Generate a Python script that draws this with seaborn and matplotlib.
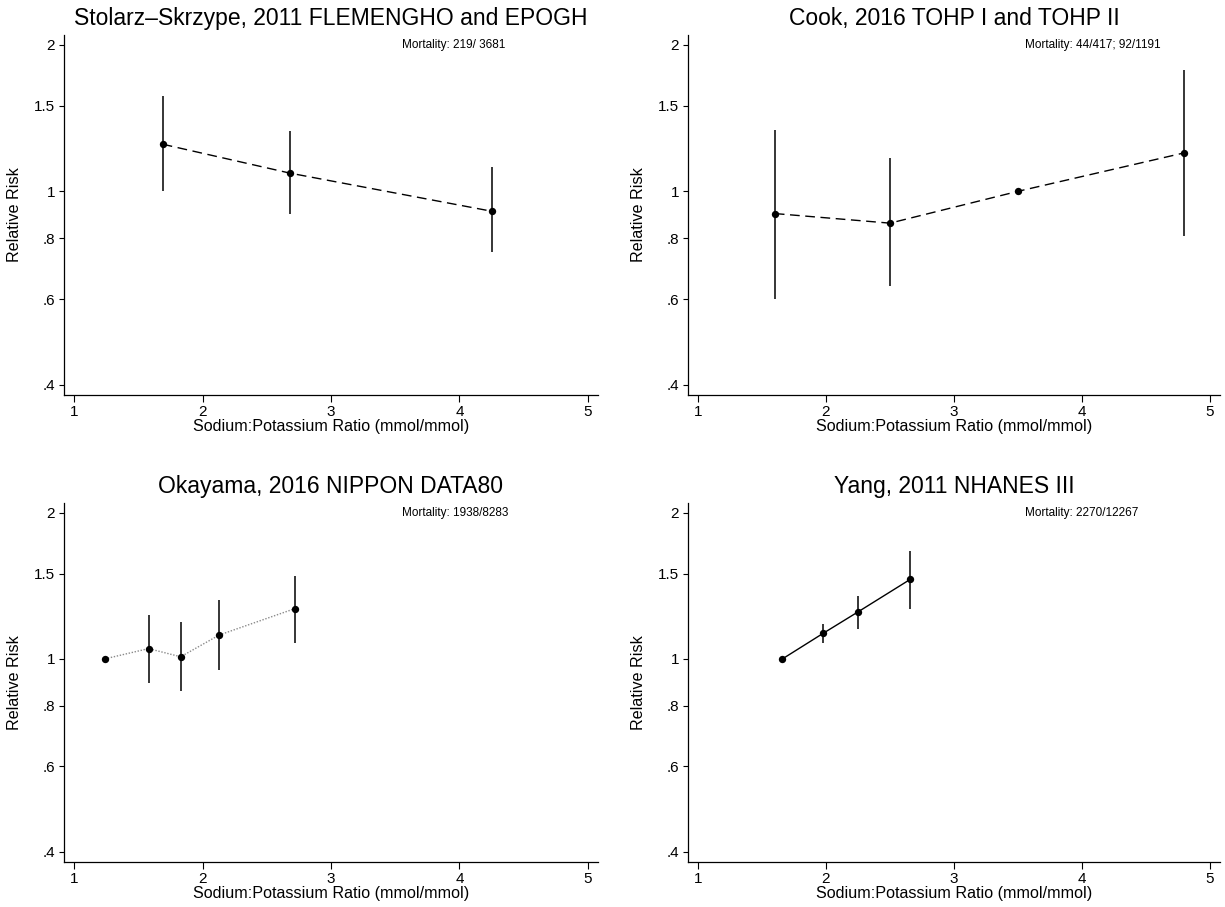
import matplotlib
matplotlib.use("Agg")
import matplotlib.pyplot as plt
import seaborn as sns
import numpy as np
import pandas as pd
from matplotlib.ticker import FixedLocator, FixedFormatter, NullLocator

sns.set_theme(style="ticks")
plt.rcParams['font.family'] = ['Liberation Sans', 'DejaVu Sans']

# ---------------- data ----------------
titles = ["Stolarz\u2013Skrzype, 2011 FLEMENGHO and EPOGH",
          "Cook, 2016 TOHP I and TOHP II",
          "Okayama, 2016 NIPPON DATA80",
          "Yang, 2011 NHANES III"]
mortality = ["Mortality: 219/ 3681",
             "Mortality: 44/417; 92/1191",
             "Mortality: 1938/8283",
             "Mortality: 2270/12267"]

stolarz_x = [1.69, 2.68, 4.25]
stolarz_rr = [1.25, 1.09, 0.91]
stolarz_lo = [1.00, 0.90, 0.75]
stolarz_hi = [1.57, 1.33, 1.12]

cook_x = [1.60, 2.50, 3.50, 4.80]
cook_rr = [0.90, 0.86, 1.00, 1.20]
cook_lo = [0.60, 0.64, np.nan, 0.81]
cook_hi = [1.34, 1.17, np.nan, 1.78]

okayama_x = [1.24, 1.58, 1.83, 2.13, 2.72]
okayama_rr = [1.00, 1.05, 1.01, 1.12, 1.27]
okayama_lo = [np.nan, 0.89, 0.86, 0.95, 1.08]
okayama_hi = [np.nan, 1.23, 1.19, 1.32, 1.48]

yang_x = [1.66, 1.98, 2.25, 2.66]
yang_rr = [1.00, 1.13, 1.25, 1.46]
yang_lo = [np.nan, 1.08, 1.15, 1.27]
yang_hi = [np.nan, 1.18, 1.35, 1.67]

x_ticks = [1, 2, 3, 4, 5]
x_ticklabels = ["1", "2", "3", "4", "5"]
y_ticks = [0.4, 0.6, 0.8, 1.0, 1.5, 2.0]
y_ticklabels = [".4", ".6", ".8", "1", "1.5", "2"]
x_label = "Sodium:Potassium Ratio (mmol/mmol)"
y_label = "Relative Risk"

panels = [
    (stolarz_x, stolarz_rr, stolarz_lo, stolarz_hi, "dashed"),
    (cook_x, cook_rr, cook_lo, cook_hi, "dashed"),
    (okayama_x, okayama_rr, okayama_lo, okayama_hi, "dotted"),
    (yang_x, yang_rr, yang_lo, yang_hi, "solid"),
]

W, H = 1225, 907
fig = plt.figure(figsize=(W / 100, H / 100), dpi=100)
fig.patch.set_facecolor("white")

rects = [
    (64, 35, 534, 360),
    (688, 35, 532, 360),
    (64, 503, 534, 359),
    (688, 503, 532, 359),
]

for i, ((x, rr, lo, hi, style), (lx, ty, w, h)) in enumerate(zip(panels, rects)):
    ax = fig.add_axes([lx / W, 1 - (ty + h) / H, w / W, h / H])
    ax.set_facecolor("white")
    df = pd.DataFrame({"x": x, "rr": rr, "lo": lo, "hi": hi})

    if style == "dotted":
        sns.lineplot(data=df, x="x", y="rr", ax=ax, color="#8a8a8a", lw=1.0,
                     estimator=None, sort=False)
        ax.lines[-1].set_dashes((1.0, 1.2))
    else:
        sns.lineplot(data=df, x="x", y="rr", ax=ax, color="black", lw=1.0,
                     estimator=None, sort=False)
        if style == "dashed":
            ax.lines[-1].set_dashes((7, 4))

    ci = df.dropna()
    ax.vlines(ci["x"], ci["lo"], ci["hi"], color="black", lw=1.1, zorder=3)
    sns.scatterplot(data=df, x="x", y="rr", ax=ax, color="black", s=28,
                    linewidth=0, zorder=4)

    ax.set_yscale("log")
    ax.set_ylim(0.381, 2.097)
    ax.set_xlim(0.922, 5.078)
    ax.yaxis.set_major_locator(FixedLocator(y_ticks))
    ax.yaxis.set_major_formatter(FixedFormatter(y_ticklabels))
    ax.yaxis.set_minor_locator(NullLocator())
    ax.xaxis.set_major_locator(FixedLocator(x_ticks))
    ax.xaxis.set_major_formatter(FixedFormatter(x_ticklabels))
    ax.xaxis.set_minor_locator(NullLocator())

    ax.tick_params(axis="y", length=3.5, width=0.8, pad=3, labelsize=11,
                   colors="black", direction="out")
    ax.tick_params(axis="x", length=5, width=0.8, pad=2, labelsize=11,
                   colors="black", direction="out")
    for s in ["top", "right"]:
        ax.spines[s].set_visible(False)
    for s in ["left", "bottom"]:
        ax.spines[s].set_color("black")
        ax.spines[s].set_linewidth(0.9)

    ax.set_xlabel(x_label, fontsize=11.6, color="black")
    ax.set_ylabel(y_label, fontsize=11.6, color="black")
    ax.xaxis.set_label_coords(0.5, -0.068)
    ax.yaxis.set_label_coords(-42 / w, 0.5)
    ax.set_title(titles[i], fontsize=16.5, color="black", pad=7)
    ax.text(0.633, 0.972, mortality[i], transform=ax.transAxes, fontsize=8.5,
            ha="left", va="center", color="black")
    ax.grid(False)

fig.savefig("out.png", dpi=100, facecolor="white")
